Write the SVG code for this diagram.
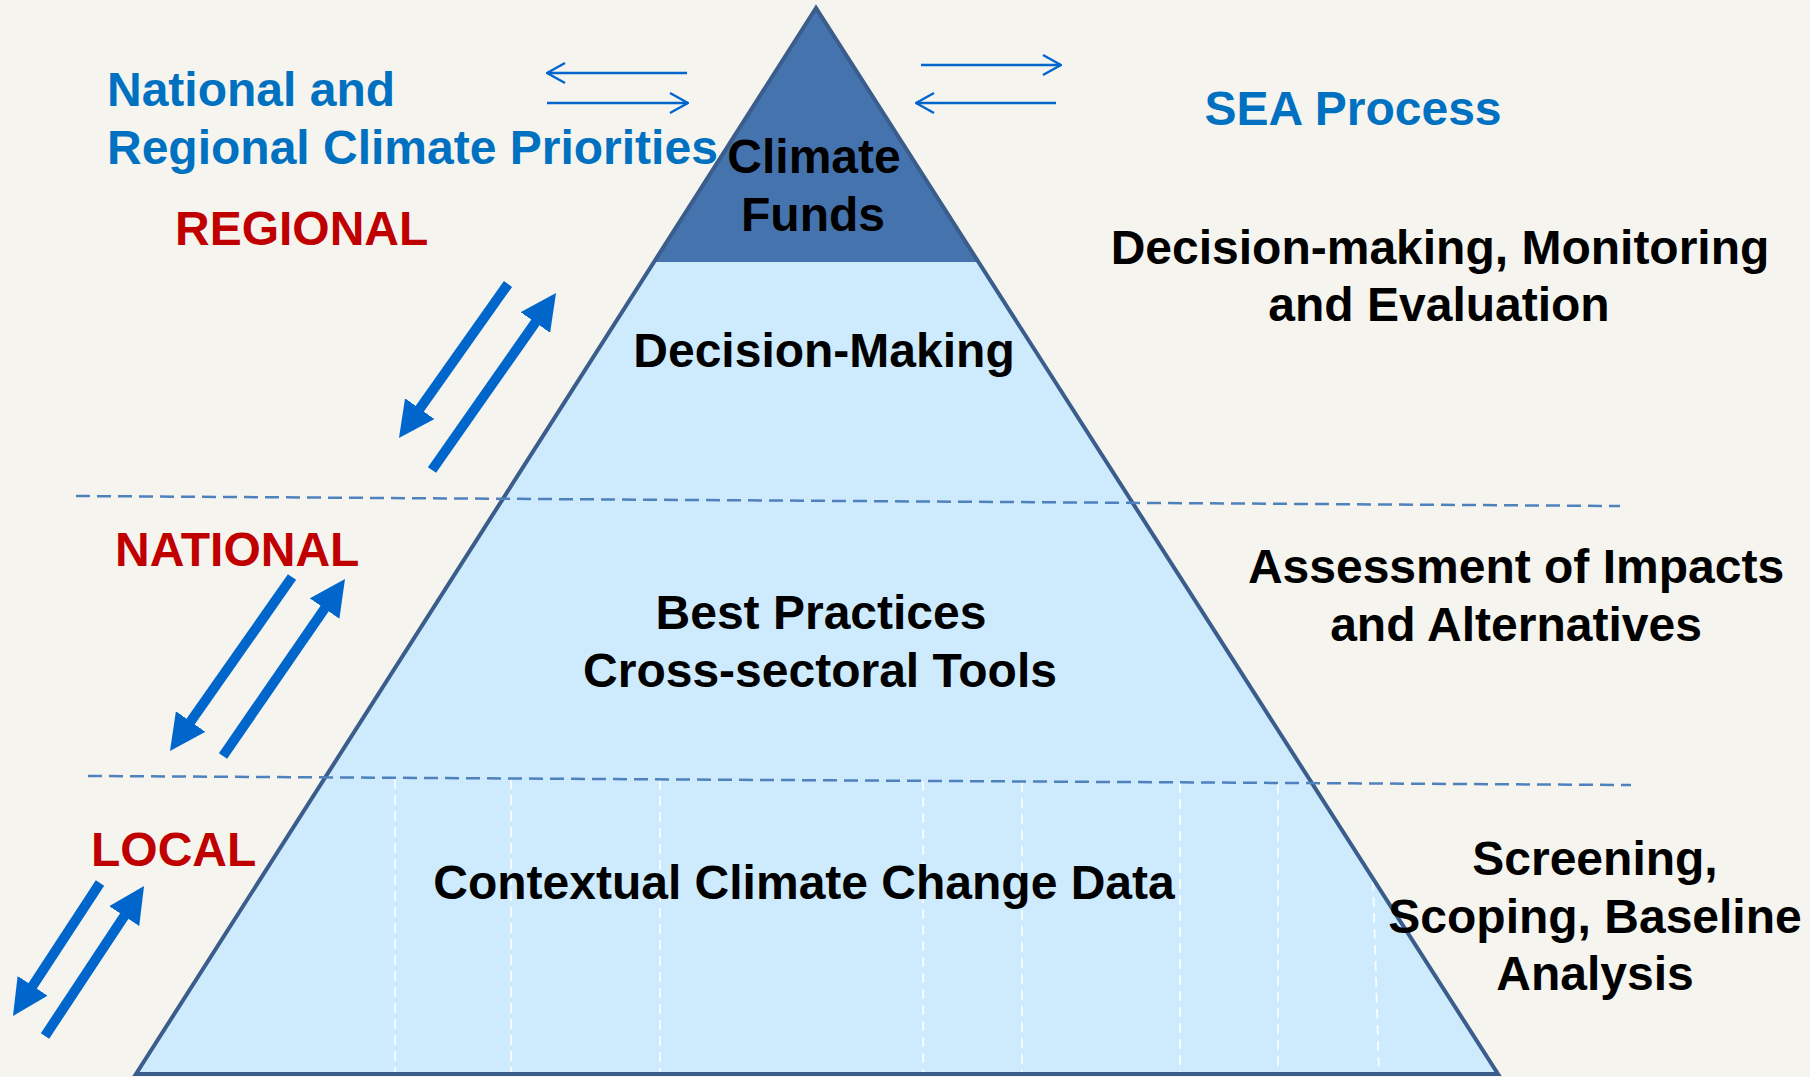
<svg xmlns="http://www.w3.org/2000/svg" width="1810" height="1077" viewBox="0 0 1810 1077">
<style>
.t{font-family:"Liberation Sans",Arial,sans-serif;font-weight:bold;font-size:48px}
.blue{fill:#0070c0}
.red{fill:#c00000}
.blk{fill:#000}
.mid{text-anchor:middle}
.lvl{stroke:#4f81bd;stroke-width:2.5;stroke-dasharray:14 7;fill:none}
.grid{stroke:#ffffff;stroke-width:1.8;stroke-dasharray:10 6;opacity:0.85}
.thin{stroke:#0066cc;stroke-width:2.5;fill:none;marker-end:url(#open)}
.thick{stroke:#0066cc;stroke-width:10;fill:none;marker-end:url(#head)}
</style>
<defs>
<marker id="open" markerUnits="userSpaceOnUse" viewBox="0 0 20 24" markerWidth="20" markerHeight="24" refX="19" refY="12" orient="auto">
<path d="M1,2 L19,12 L1,22" fill="none" stroke="#0066cc" stroke-width="2.5"/>
</marker>
<marker id="head" markerUnits="userSpaceOnUse" viewBox="0 0 36 36" markerWidth="36" markerHeight="36" refX="2" refY="18" orient="auto">
<path d="M0,0 L36,18 L0,36 z" fill="#0066cc"/>
</marker>
<clipPath id="tri"><polygon points="816,8 136,1074 1498,1074"/></clipPath>
</defs>
<rect width="1810" height="1077" fill="#f5f4ef"/>

<g id="pyramid">
<polygon points="816,8 136,1074 1498,1074" fill="#cdebfd"/>
<polygon points="816,8 654,262 978,262" fill="#4573ad"/>
<g id="grid-lines" clip-path="url(#tri)">
<line class="grid" x1="395" y1="779" x2="395" y2="1074"/>
<line class="grid" x1="511" y1="779" x2="511" y2="1074"/>
<line class="grid" x1="660" y1="780" x2="660" y2="1074"/>
<line class="grid" x1="923" y1="781" x2="923" y2="1074"/>
<line class="grid" x1="1022" y1="782" x2="1022" y2="1074"/>
<line class="grid" x1="1180" y1="783" x2="1180" y2="1074"/>
<line class="grid" x1="1278" y1="784" x2="1278" y2="1074"/>
<line class="grid" x1="1370" y1="785" x2="1379" y2="1074"/>
</g>
<polygon points="816,8 136,1074 1498,1074" fill="none" stroke="#3a5d8c" stroke-width="4" stroke-linejoin="miter"/>
</g>

<g id="levels">
<line class="lvl" x1="76" y1="496" x2="1620" y2="506"/>
<line class="lvl" x1="88" y1="776" x2="1631" y2="785"/>
</g>

<g id="connectors">
<line class="thin" x1="687" y1="73" x2="547" y2="73"/>
<line class="thin" x1="547" y1="103" x2="688" y2="103"/>
<line class="thin" x1="921" y1="65" x2="1061" y2="65"/>
<line class="thin" x1="1056" y1="103" x2="916" y2="103"/>
<line class="thick" x1="508" y1="284" x2="418.6" y2="410.3"/>
<line class="thick" x1="432" y1="470" x2="536.5" y2="320.8"/>
<line class="thick" x1="292" y1="577" x2="189.5" y2="723.2"/>
<line class="thick" x1="223" y1="756" x2="325.7" y2="607"/>
<line class="thick" x1="100" y1="883" x2="31.6" y2="987.5"/>
<line class="thick" x1="45" y1="1036" x2="125.3" y2="914.4"/>
</g>

<g id="climate-priorities"><text class="t blue" x="107" y="106">National and</text><text class="t blue" x="107" y="164">Regional Climate Priorities</text></g>
<g id="sea-process"><text class="t blue" x="1353" y="125" text-anchor="middle">SEA Process</text></g>
<g id="regional"><text class="t red" x="175" y="245">REGIONAL</text></g>
<g id="national"><text class="t red" x="115" y="566">NATIONAL</text></g>
<g id="local"><text class="t red" x="91" y="866">LOCAL</text></g>

<g id="climate-funds"><text class="t blk mid" x="814" y="173">Climate</text><text class="t blk mid" x="813" y="231">Funds</text></g>
<g id="decision-making"><text class="t blk mid" x="824" y="367">Decision-Making</text></g>
<g id="best-practices"><text class="t blk mid" x="821" y="629">Best Practices</text><text class="t blk mid" x="820" y="687">Cross-sectoral Tools</text></g>
<g id="contextual-data"><text class="t blk mid" x="804" y="899">Contextual Climate Change Data</text></g>

<g id="decision-monitoring"><text class="t blk mid" x="1440" y="264">Decision-making, Monitoring</text><text class="t blk mid" x="1439" y="321">and Evaluation</text></g>
<g id="assessment"><text class="t blk mid" x="1516" y="583">Assessment of Impacts</text><text class="t blk mid" x="1516" y="641">and Alternatives</text></g>
<g id="screening"><text class="t blk mid" x="1595" y="875">Screening,</text><text class="t blk mid" x="1595" y="933">Scoping, Baseline</text><text class="t blk mid" x="1595" y="990">Analysis</text></g>
</svg>
